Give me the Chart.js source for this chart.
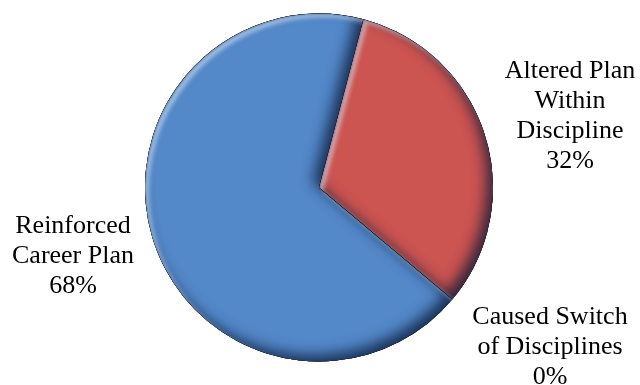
<!DOCTYPE html>
<html>
<head>
<meta charset="utf-8">
<script src="https://cdn.jsdelivr.net/npm/chart.js@4/dist/chart.umd.min.js"></script>
<style>
  html, body { margin: 0; padding: 0; background: #fff; }
  #wrap { width: 640px; height: 385px; }
</style>
</head>
<body>
<div id="wrap"><canvas id="outcomeChart"></canvas></div>
<script>
// slice names (one line per entry) and their shares
const categories = [
    ['Reinforced', 'Career Plan'],
    ['Altered Plan', 'Within', 'Discipline'],
    ['Caused Switch', 'of Disciplines']
];
const percentages = [68, 32, 0];
const sliceColors = ['#5388C9', '#CC5451', '#9BBB59'];
const rimColors = ['#4575B4', '#B24644', '#7A9445'];

// where each label block sits, relative to the pie centre
const labelOffsets = [
    { dx: -246, dy: 45 },
    { dx: 251, dy: -110 },
    { dx: 231, dy: 136 }
];

function arcPath(ctx, a) {
    ctx.beginPath();
    ctx.moveTo(a.x, a.y);
    ctx.arc(a.x, a.y, a.outerRadius, a.startAngle, a.endAngle);
    ctx.closePath();
}

// soft inner shadow falling into the slice from one side
function innerShadow(ctx, a, color, blur, ox, oy) {
    ctx.save();
    arcPath(ctx, a);
    ctx.clip();
    ctx.beginPath();
    ctx.rect(-2000, -2000, 5000, 5000);
    ctx.moveTo(a.x, a.y);
    ctx.arc(a.x, a.y, a.outerRadius, a.startAngle, a.endAngle);
    ctx.closePath();
    ctx.shadowColor = color;
    ctx.shadowBlur = blur;
    ctx.shadowOffsetX = ox;
    ctx.shadowOffsetY = oy;
    ctx.fillStyle = '#000';
    ctx.fill('evenodd');
    ctx.restore();
}

const bevelPlugin = {
    id: 'bevel',
    afterDatasetsDraw(chart) {
        const ctx = chart.ctx;
        chart.getDatasetMeta(0).data.forEach(a => {
            if (a.endAngle - a.startAngle <= 0) return;
            innerShadow(ctx, a, 'rgba(10,25,55,0.8)', 14, -6, -6);
            innerShadow(ctx, a, 'rgba(225,240,255,0.55)', 4, 4, 4);
            innerShadow(ctx, a, 'rgba(20,40,80,0.35)', 2, 1, 1);
        });
    }
};

const labelPlugin = {
    id: 'sliceLabels',
    afterDraw(chart) {
        const ctx = chart.ctx;
        const meta = chart.getDatasetMeta(0);
        const cx = meta.data[0].x, cy = meta.data[0].y;
        ctx.save();
        ctx.font = '26px "Liberation Serif", "Times New Roman", serif';
        ctx.fillStyle = '#000';
        ctx.textAlign = 'center';
        ctx.textBaseline = 'alphabetic';
        categories.forEach((name, i) => {
            const lines = name.concat([percentages[i] + '%']);
            const off = labelOffsets[i];
            lines.forEach((txt, j) => {
                ctx.fillText(txt, cx + off.dx, cy + off.dy + j * 30);
            });
        });
        ctx.restore();
    }
};

new Chart(document.getElementById('outcomeChart'), {
    type: 'pie',
    data: {
        labels: categories.map(c => c.join(' ')),
        datasets: [{
            data: percentages,
            borderWidth: 0,
            backgroundColor: (c) => {
                const a = c.element;
                const i = c.dataIndex;
                if (!a || !a.outerRadius) return sliceColors[i];
                const g = c.chart.ctx.createRadialGradient(a.x, a.y, 0, a.x, a.y, a.outerRadius);
                g.addColorStop(0, sliceColors[i]);
                g.addColorStop(0.88, sliceColors[i]);
                g.addColorStop(1, rimColors[i]);
                return g;
            }
        }]
    },
    options: {
        responsive: true,
        maintainAspectRatio: false,
        animation: false,
        rotation: 130,
        layout: { padding: { top: 13, bottom: 23, left: 145, right: 147 } },
        plugins: {
            legend: { display: false },
            tooltip: { enabled: false }
        }
    },
    plugins: [bevelPlugin, labelPlugin]
});
</script>
</body>
</html>
